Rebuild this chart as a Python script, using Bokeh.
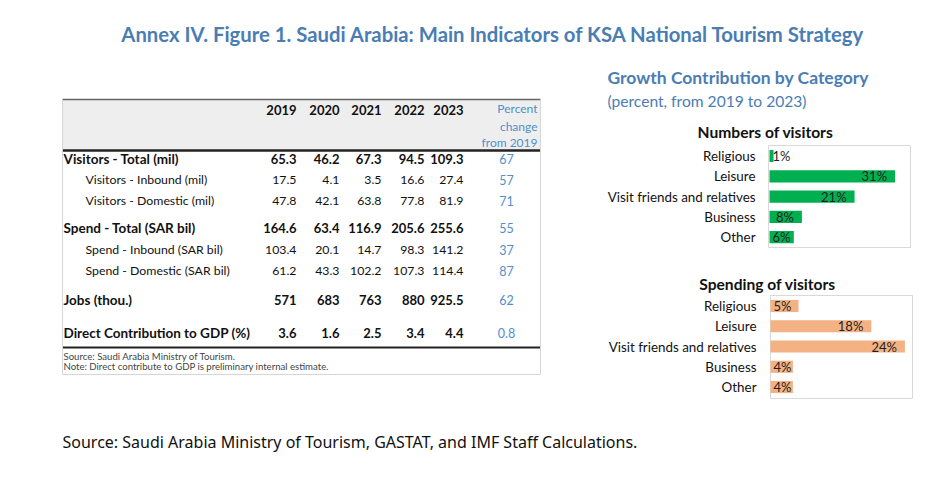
from bokeh.plotting import figure
from bokeh.models import Range1d, ColumnDataSource
from bokeh.core.properties import value
from bokeh.embed import file_html
from bokeh.resources import INLINE

# ---------------- data ----------------
title_text = "Annex IV. Figure 1. Saudi Arabia: Main Indicators of KSA National Tourism Strategy"
years = ["2019", "2020", "2021", "2022", "2023"]
row_labels = ["Visitors - Total (mil)", "Visitors - Inbound (mil)", "Visitors - Domestic (mil)",
              "Spend - Total (SAR bil)", "Spend - Inbound (SAR bil)", "Spend - Domestic (SAR bil)",
              "Jobs (thou.)", "Direct Contribution to GDP (%)"]
row_bold = [True, False, False, True, False, False, True, True]
v2019 = [65.3, 17.5, 47.8, 164.6, 103.4, 61.2, 571, 3.6]
v2020 = [46.2, 4.1, 42.1, 63.4, 20.1, 43.3, 683, 1.6]
v2021 = [67.3, 3.5, 63.8, 116.9, 14.7, 102.2, 763, 2.5]
v2022 = [94.5, 16.6, 77.8, 205.6, 98.3, 107.3, 880, 3.4]
v2023 = [109.3, 27.4, 81.9, 255.6, 141.2, 114.4, 925.5, 4.4]
pct_change = [67, 57, 71, 55, 37, 87, 62, 0.8]
pct_header = ["Percent", "change", "from 2019"]
table_notes = ["Source: Saudi Arabia Ministry of Tourism.",
               "Note: Direct contribute to GDP is preliminary internal estimate."]

categories = ["Religious", "Leisure", "Visit friends and relatives", "Business", "Other"]
visitors_pct = [1, 31, 21, 8, 6]
spending_pct = [5, 18, 24, 4, 4]

side_title = "Growth Contribution by Category"
side_sub = "(percent, from 2019 to 2023)"
chart1_title = "Numbers of visitors"
chart2_title = "Spending of visitors"
source_text = "Source: Saudi Arabia Ministry of Tourism, GASTAT, and IMF Staff Calculations."

# ---------------- layout (pixel positions of the reference) ----------------
W, H = 922, 461
BLUE = "#4a7db3"
LBLUE = "#4f8fcc"
LAB = "Lato"

p = figure(width=W, height=H, x_range=Range1d(0, W), y_range=Range1d(H, 0),
           output_backend="svg", toolbar_location=None, min_border=0,
           x_axis_location=None, y_axis_location=None)
p.grid.visible = False
p.outline_line_color = None
p.background_fill_color = "white"

# Title
p.text(x=[493], y=[33], text=[title_text], text_align="center", text_baseline="middle",
       text_font=value(LAB), text_font_style="bold", text_font_size="20.3px", text_color=BLUE)

# ---------------- table ----------------
tx0, tx1 = 62, 540
p.quad(left=[tx0], right=[tx1], top=[99], bottom=[149], fill_color="#eeeeee", line_color=None)
p.segment(x0=[tx0], y0=[99], x1=[tx1], y1=[99], line_color="#666666", line_width=1.5)
p.segment(x0=[tx0], y0=[150], x1=[tx1], y1=[150], line_color="#222222", line_width=2.5)
p.segment(x0=[tx0], y0=[347], x1=[tx1], y1=[347], line_color="#222222", line_width=2)
p.segment(x0=[tx0, tx1, tx0], y0=[99, 99, 374], x1=[tx0, tx1, tx1], y1=[374, 374, 374],
          line_color="#d6d6d6", line_width=1)

col_right = [296, 339, 381, 424, 463]
row_y = [158, 179, 200, 227, 249, 270, 299, 332]
pct_x = 506

# headers
p.text(x=col_right, y=[109] * 5, text=years, text_align="right", text_baseline="middle",
       text_font=value(LAB), text_font_style="bold", text_font_size="13px", text_color="#111111")
p.text(x=[537] * 3, y=[108, 126, 142], text=pct_header, text_align="right", text_baseline="middle",
       text_font=value(LAB), text_font_size="12px", text_color=LBLUE)


def fmt(v):
    return f"{v:g}"


cols = [v2019, v2020, v2021, v2022, v2023]
for bold in (True, False):
    idx = [i for i in range(len(row_labels)) if row_bold[i] == bold]
    style = "bold" if bold else "normal"
    lsize = "13.5px" if bold else "12.3px"
    nsize = "13px" if bold else "12.3px"
    p.text(x=[63 if bold else 85] * len(idx), y=[row_y[i] for i in idx],
           text=[row_labels[i] for i in idx], text_align="left", text_baseline="middle",
           text_font=value(LAB), text_font_style=style, text_font_size=lsize, text_color="#111111")
    xs, ys, ts = [], [], []
    for j, col in enumerate(cols):
        for i in idx:
            xs.append(col_right[j]); ys.append(row_y[i]); ts.append(fmt(col[i]))
    p.text(x=xs, y=ys, text=ts, text_align="right", text_baseline="middle",
           text_font=value(LAB), text_font_style=style, text_font_size=nsize, text_color="#111111")

p.text(x=[pct_x] * len(pct_change), y=row_y, text=[fmt(v) for v in pct_change],
       text_align="center", text_baseline="middle", text_font=value(LAB),
       text_font_size="12.5px", text_color=LBLUE)

p.text(x=[63, 63], y=[356, 366], text=table_notes, text_align="left", text_baseline="middle",
       text_font=value(LAB), text_font_size="9.6px", text_color="#444444")

# ---------------- side panel ----------------
p.text(x=[607], y=[77], text=[side_title], text_align="left", text_baseline="middle",
       text_font=value(LAB), text_font_style="bold", text_font_size="17.5px", text_color=BLUE)
p.text(x=[607], y=[100], text=[side_sub], text_align="left", text_baseline="middle",
       text_font=value(LAB), text_font_size="15.6px", text_color=BLUE)


def bar_chart(name, vals, color, title, title_x, title_y, bx0, scale, cy0, step, box):
    xr, yr = name + "_x", name + "_y"
    p.extra_x_ranges[xr] = Range1d(start=(0 - bx0) / scale, end=(W - bx0) / scale)
    p.extra_y_ranges[yr] = Range1d(start=(H - cy0) / step, end=(0 - cy0) / step)
    bl, br, bt, bb = box
    p.quad(left=[bl], right=[br], top=[bt], bottom=[bb], fill_color=None,
           line_color="#d9d9d9", line_width=1)
    p.text(x=[title_x], y=[title_y], text=[title], text_align="center", text_baseline="middle",
           text_font=value(LAB), text_font_style="bold", text_font_size="15.6px", text_color="#111111")
    pos = list(range(len(categories)))
    src = ColumnDataSource(dict(y=pos, v=vals))
    p.hbar(y="y", left=0, right="v", height=0.6, source=src, fill_color=color, line_color=None,
           x_range_name=xr, y_range_name=yr)
    p.text(x=[bx0 - 14] * len(pos), y=pos, text=categories, text_align="right", text_baseline="middle",
           text_font=value(LAB), text_font_size="13.4px", text_color="#111111", y_range_name=yr)
    long_i = [i for i in pos if vals[i] * scale > 31]
    short_i = [i for i in pos if vals[i] * scale <= 31]
    p.text(x=[vals[i] for i in long_i], y=long_i, text=[f"{vals[i]:g}%" for i in long_i],
           x_offset=-8, text_align="right", text_baseline="middle", text_font=value(LAB),
           text_font_size="13px", text_color="#222222", x_range_name=xr, y_range_name=yr)
    p.text(x=[0] * len(short_i), y=short_i, text=[f"{vals[i]:g}%" for i in short_i],
           x_offset=3, text_align="left", text_baseline="middle", text_font=value(LAB),
           text_font_size="13px", text_color="#222222", x_range_name=xr, y_range_name=yr)


bar_chart("vis", visitors_pct, "#00b050", chart1_title, 765, 131, 769, 4.05, 155.5, 20.3, (768, 910, 145, 247))
bar_chart("spd", spending_pct, "#f4b183", chart2_title, 767, 283, 770, 5.6, 305.5, 20.25, (770, 912, 295, 398))

# ---------------- source ----------------
p.text(x=[62], y=[441], text=[source_text], text_align="left", text_baseline="middle",
       text_font=value("Noto Sans"), text_font_size="16px", text_color="#111111")

open("out.html", "w").write(file_html(p, INLINE))
